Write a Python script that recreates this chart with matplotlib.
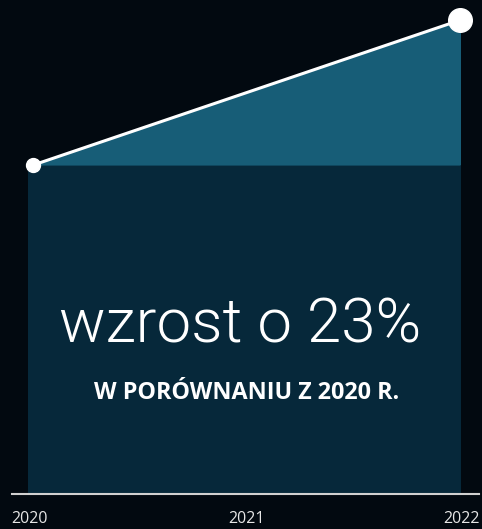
import matplotlib.pyplot as plt

years = [2020, 2022]
values = [100, 123]
tick_years = [2020, 2021, 2022]
tick_labels = ["2020", "2021", "2022"]
headline = "wzrost o 23%"
subline = "W PORÓWNANIU Z 2020 R."

bg = "#020910"
fig = plt.figure(figsize=(4.82, 5.29), dpi=100, facecolor=bg)
ax = fig.add_axes([0, 0, 1, 1])
ax.set_facecolor(bg)
ax.set_xlim(2019.845, 2022.103)
ax.set_ylim(42.24, 126.2)
ax.axis("off")

base = 47.8
# dark block below the starting level
ax.fill_between([years[0] - 0.023, years[1] + 0.005], base, values[0],
                color="#06283a", lw=0, zorder=1)
# lighter wedge showing the growth
ax.fill_between(years, values[0], values, color="#175d77", lw=0, zorder=1)
ax.fill_between([years[1], years[1] + 0.005], values[0], values[1],
                color="#175d77", lw=0, zorder=1)

ax.plot(years, values, color="white", lw=2.2, zorder=3, solid_capstyle="round")
ax.plot(years[0], values[0], "o", color="white", ms=10, zorder=4)
ax.plot(years[1], values[1], "o", color="white", ms=17, zorder=4)

# axis line
ax.plot([2019.9, 2022.09], [base, base], color="#d0d0d0", lw=1.5, zorder=2)

ty = 43.8
for yr, lab in zip(tick_years, tick_labels):
    ha = "left" if yr == tick_years[0] else ("right" if yr == tick_years[-1] else "center")
    xx = yr
    if ha == "left":
        xx = 2019.9
    elif ha == "right":
        xx = 2022.093
    ax.text(xx, ty, lab, ha=ha, va="center", color="#e6e6e6", fontsize=11.5,
            family="Open Sans")

ax.text(2020.972, 71.9, headline, ha="center", va="baseline", color="white",
        fontsize=44.5, family="Roboto", fontweight=300)
ax.text(2021.0, 63.8, subline, ha="center", va="center", color="white",
        fontsize=16.8, family="Open Sans", fontweight="bold")

fig.savefig("out.png", dpi=100, facecolor=bg)
